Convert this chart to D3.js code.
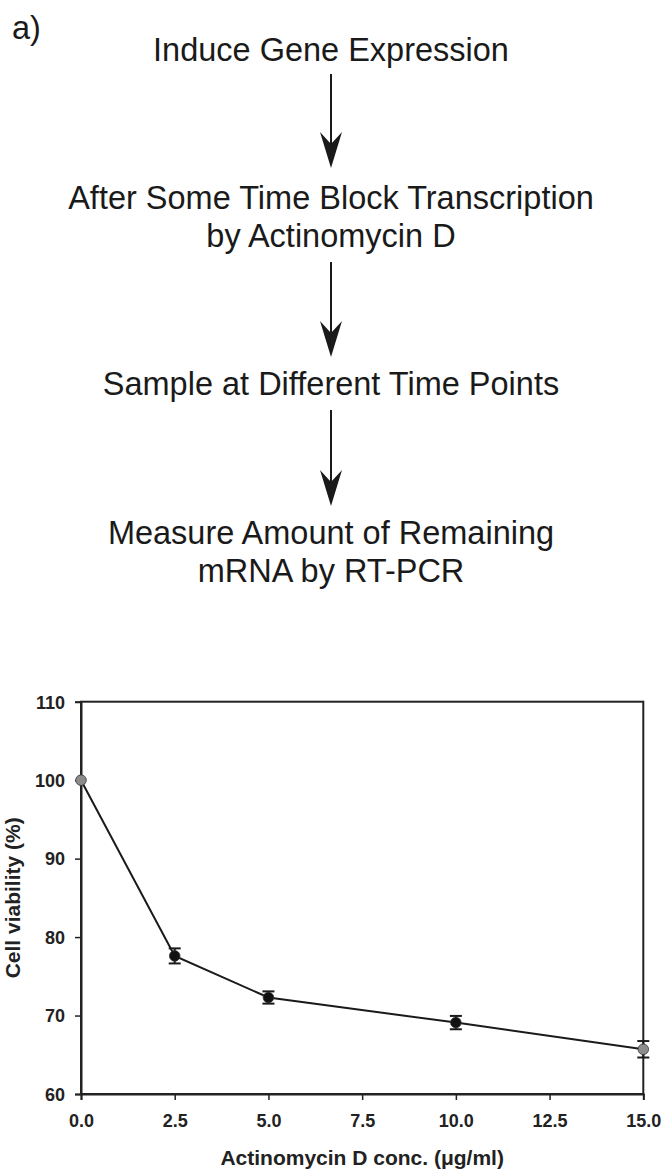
<!DOCTYPE html>
<html>
<head>
<meta charset="utf-8">
<script src="https://cdn.jsdelivr.net/npm/d3@7"></script>
<style>
  html, body { margin: 0; padding: 0; background: #fff; }
  svg { display: block; }
</style>
</head>
<body>
<script>
// ---- data ----
const steps = [
  ["Induce Gene Expression"],
  ["After Some Time Block Transcription", "by Actinomycin D"],
  ["Sample at Different Time Points"],
  ["Measure Amount of Remaining", "mRNA by RT-PCR"]
];
const concentrations = [0, 2.5, 5, 10, 15];
const viability = [100, 77.6, 72.3, 69.1, 65.7];
const sem = [0, 0.96, 0.78, 0.85, 1.05];
const xTicks = [0, 2.5, 5, 7.5, 10, 12.5, 15];
const yTicks = [60, 70, 80, 90, 100, 110];
const xTitle = "Actinomycin D conc. (\u03bcg/ml)";
const yTitle = "Cell viability (%)";
const panelLabel = "a)";

(function () {
const W = 664, H = 1172;
const FONT = "'Liberation Sans', Arial, sans-serif";
const svg = d3.select("body").append("svg").attr("width", W).attr("height", H);

// ---- flowchart ----
const fc = svg.append("g").attr("font-family", FONT)
  .attr("font-size", 32.5).attr("fill", "#1a1a1a");
fc.append("text").attr("x", 12).attr("y", 39).text(panelLabel);

const cx = 331;
const lineBaselines = [[61], [208.5, 247], [395], [543.5, 582]];
steps.forEach((lines, i) => {
  lines.forEach((t, j) => {
    fc.append("text").attr("x", cx).attr("y", lineBaselines[i][j])
      .attr("text-anchor", "middle").text(t);
  });
});

const arrows = [[74, 168], [262, 357], [410, 506]];
arrows.forEach(([y0, y1]) => {
  fc.append("line").attr("x1", cx).attr("x2", cx).attr("y1", y0).attr("y2", y1 - 20)
    .attr("stroke", "#1a1a1a").attr("stroke-width", 2);
  const hl = 36, hw = 11;
  fc.append("path")
    .attr("d", `M${cx},${y1} L${cx - hw},${y1 - hl} L${cx},${y1 - hl + 12} L${cx + hw},${y1 - hl} Z`)
    .attr("fill", "#1a1a1a");
});

// ---- chart ----
const pL = 81, pR = 643.3, pT = 701.7, pB = 1094;
const x = d3.scaleLinear().domain([0, 15]).range([pL, pR]);
const y = d3.scaleLinear().domain([60, 110]).range([pB, pT]);

const ch = svg.append("g");
const axisColor = "#222";

// frame
ch.append("rect").attr("x", pL).attr("y", pT).attr("width", pR - pL).attr("height", pB - pT)
  .attr("fill", "none").attr("stroke", axisColor).attr("stroke-width", 2);

const xAxis = ch.append("g").attr("transform", `translate(0,${pB})`)
  .call(d3.axisBottom(x).tickValues(xTicks).tickFormat(d3.format(".1f")).tickSize(6).tickPadding(14));
const yAxis = ch.append("g").attr("transform", `translate(${pL},0)`)
  .call(d3.axisLeft(y).tickValues(yTicks).tickSize(6).tickPadding(10));

[xAxis, yAxis].forEach(a => {
  a.attr("font-family", FONT).attr("font-size", 18);
  a.select(".domain").attr("stroke", axisColor).attr("stroke-width", 2);
  a.selectAll(".tick line").attr("stroke", axisColor).attr("stroke-width", 1.5);
  a.selectAll("text").attr("font-family", FONT)
    .attr("font-weight", "bold").attr("font-size", 18).attr("fill", "#222");
});
yAxis.selectAll("text").attr("dy", "0.35em");

// titles
ch.append("text").attr("x", (pL + pR) / 2).attr("y", 1165)
  .attr("text-anchor", "middle").attr("font-family", FONT)
  .attr("font-weight", "bold").attr("font-size", 21).attr("fill", "#222").text(xTitle);
ch.append("text").attr("transform", `translate(19.5,${(pT + pB) / 2}) rotate(-90)`)
  .attr("text-anchor", "middle").attr("font-family", FONT)
  .attr("font-weight", "bold").attr("font-size", 21).attr("fill", "#222").text(yTitle);

const data = concentrations.map((c, i) => ({ c, v: viability[i], e: sem[i] }));

// line
ch.append("path").datum(data)
  .attr("d", d3.line().x(d => x(d.c)).y(d => y(d.v)))
  .attr("fill", "none").attr("stroke", "#1a1a1a").attr("stroke-width", 2);

// error bars
const eb = ch.append("g").selectAll("g").data(data.filter(d => d.e > 0)).join("g");
eb.append("line").attr("x1", d => x(d.c)).attr("x2", d => x(d.c))
  .attr("y1", d => y(d.v + d.e)).attr("y2", d => y(d.v - d.e))
  .attr("stroke", "#1a1a1a").attr("stroke-width", 2);
eb.append("line").attr("x1", d => x(d.c) - 6).attr("x2", d => x(d.c) + 6)
  .attr("y1", d => y(d.v + d.e)).attr("y2", d => y(d.v + d.e))
  .attr("stroke", "#1a1a1a").attr("stroke-width", 2);
eb.append("line").attr("x1", d => x(d.c) - 6).attr("x2", d => x(d.c) + 6)
  .attr("y1", d => y(d.v - d.e)).attr("y2", d => y(d.v - d.e))
  .attr("stroke", "#1a1a1a").attr("stroke-width", 2);

// points
ch.append("g").selectAll("circle").data(data).join("circle")
  .attr("cx", d => x(d.c)).attr("cy", d => y(d.v)).attr("r", 5.3)
  .attr("fill", (d, i) => (i === 0 || i === data.length - 1) ? "#8c8c8c" : "#111")
  .attr("stroke", "#333").attr("stroke-width", 0.8);
})();
</script>
</body>
</html>
